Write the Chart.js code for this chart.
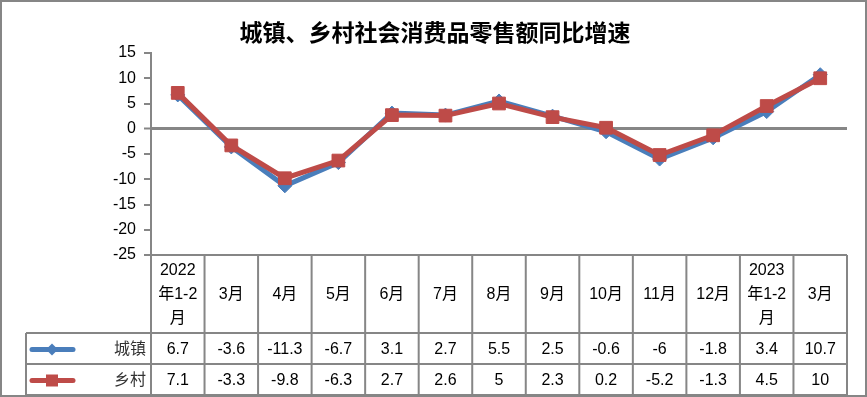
<!DOCTYPE html>
<html>
<head>
<meta charset="utf-8">
<script src="https://cdn.jsdelivr.net/npm/chart.js@4.4.0/dist/chart.umd.min.js"></script>
<style>
  html, body { margin: 0; padding: 0; background: #fff; }
  canvas { display: block; }
</style>
</head>
<body>
<canvas id="chart" width="867" height="397"></canvas>
<script>
const categories = [
    ['2022', '年1-2', '月'], ['3月'], ['4月'], ['5月'], ['6月'], ['7月'], ['8月'],
    ['9月'], ['10月'], ['11月'], ['12月'], ['2023', '年1-2', '月'], ['3月']
];
const urban = [6.7, -3.6, -11.3, -6.7, 3.1, 2.7, 5.5, 2.5, -0.6, -6, -1.8, 3.4, 10.7];
const rural = [7.1, -3.3, -9.8, -6.3, 2.7, 2.6, 5, 2.3, 0.2, -5.2, -1.3, 4.5, 10];
const seriesNames = ['城镇', '乡村'];
const yTicks = [15, 10, 5, 0, -5, -10, -15, -20, -25];

const BLUE = '#4A7EBB';
const RED = '#BE4B48';
const GRID = '#868686';
const FONT = '"Liberation Sans", "Noto Sans CJK SC", sans-serif';

// draws the title, the frame and the data table under the plot
const tablePlugin = {
    id: 'dataTable',
    afterDraw(chart) {
        const ctx = chart.ctx;
        const x = chart.scales.x;
        const area = chart.chartArea;
        const colW = (area.right - area.left) / categories.length;
        const headTop = area.bottom;
        const row1 = 333, row2 = 364, bottom = 395, legendLeft = 26;

        ctx.save();

        // title
        ctx.fillStyle = '#000';
        ctx.font = 'bold 23px "Noto Sans CJK SC", sans-serif';
        ctx.textAlign = 'center';
        ctx.textBaseline = 'middle';
        ctx.fillText('城镇、乡村社会消费品零售额同比增速', 435, 32);

        // outer frame
        ctx.strokeStyle = GRID;
        ctx.lineWidth = 2;
        ctx.strokeRect(1, 1, 865, 395);

        // table grid
        ctx.beginPath();
        ctx.moveTo(area.left, headTop);
        ctx.lineTo(area.right, headTop);
        [row1, row2, bottom].forEach(yy => {
            ctx.moveTo(legendLeft, yy);
            ctx.lineTo(area.right, yy);
        });
        for (let i = 0; i <= categories.length; i++) {
            const xx = area.left + i * colW;
            ctx.moveTo(xx, headTop);
            ctx.lineTo(xx, bottom);
        }
        ctx.moveTo(legendLeft, row1);
        ctx.lineTo(legendLeft, bottom);
        ctx.stroke();

        // header labels
        ctx.fillStyle = '#000';
        ctx.font = '16px ' + FONT;
        const lineH = 24;
        const headMid = (headTop + row1) / 2 + 1;
        categories.forEach((lines, i) => {
            const cx = x.getPixelForValue(i);
            const y0 = headMid - (lines.length - 1) * lineH / 2;
            lines.forEach((t, k) => ctx.fillText(t, cx, y0 + k * lineH));
        });

        // values
        const rows = [urban, rural];
        const mids = [(row1 + row2) / 2 + 1, (row2 + bottom) / 2 + 1];
        rows.forEach((vals, r) => {
            vals.forEach((v, i) => ctx.fillText(String(v), x.getPixelForValue(i), mids[r]));
        });

        // legend keys
        const colors = [BLUE, RED];
        mids.forEach((my, r) => {
            ctx.strokeStyle = colors[r];
            ctx.lineWidth = 5;
            ctx.lineCap = 'round';
            ctx.beginPath();
            ctx.moveTo(32, my);
            ctx.lineTo(73, my);
            ctx.stroke();
            ctx.fillStyle = colors[r];
            ctx.beginPath();
            if (r === 0) {
                ctx.moveTo(52, my - 6);
                ctx.lineTo(58, my);
                ctx.lineTo(52, my + 6);
                ctx.lineTo(46, my);
            } else {
                ctx.rect(46, my - 6, 12, 12);
            }
            ctx.fill();
            ctx.fillStyle = '#333';
            ctx.textAlign = 'right';
            ctx.fillText(seriesNames[r], 146, my);
            ctx.textAlign = 'center';
        });

        ctx.restore();
    }
};

new Chart(document.getElementById('chart'), {
    type: 'line',
    data: {
        labels: categories.map(c => c.join('')),
        datasets: [{
            label: seriesNames[0],
            data: urban,
            order: 2,
            borderColor: BLUE,
            backgroundColor: BLUE,
            borderWidth: 5,
            pointStyle: 'rectRot',
            pointRadius: 7,
            pointBorderWidth: 1,
            tension: 0
        }, {
            label: seriesNames[1],
            data: rural,
            order: 1,
            borderColor: RED,
            backgroundColor: RED,
            borderWidth: 5,
            pointStyle: 'rect',
            pointRadius: 9,
            pointBorderWidth: 1,
            tension: 0
        }]
    },
    options: {
        responsive: false,
        animation: false,
        layout: {
            padding: { left: 0, right: 20, top: 53, bottom: 142 }
        },
        plugins: {
            legend: { display: false },
            tooltip: { enabled: false }
        },
        scales: {
            x: {
                offset: true,
                grid: { display: false },
                border: { display: false },
                ticks: { display: false },
                afterFit: s => { s.height = 0; }
            },
            y: {
                min: -25,
                max: 15,
                afterBuildTicks: s => { s.ticks = yTicks.map(v => ({ value: v })); },
                afterFit: s => { s.width = 151; },
                grid: {
                    color: c => c.tick && c.tick.value === 0 ? GRID : 'transparent',
                    lineWidth: c => c.tick && c.tick.value === 0 ? 3 : 0,
                    tickColor: GRID,
                    tickLength: 7,
                    tickWidth: 2
                },
                border: { display: true, color: GRID, width: 2 },
                ticks: {
                    color: '#000',
                    padding: 8,
                    font: { family: FONT, size: 16 }
                }
            }
        }
    },
    plugins: [tablePlugin]
});
</script>
</body>
</html>
